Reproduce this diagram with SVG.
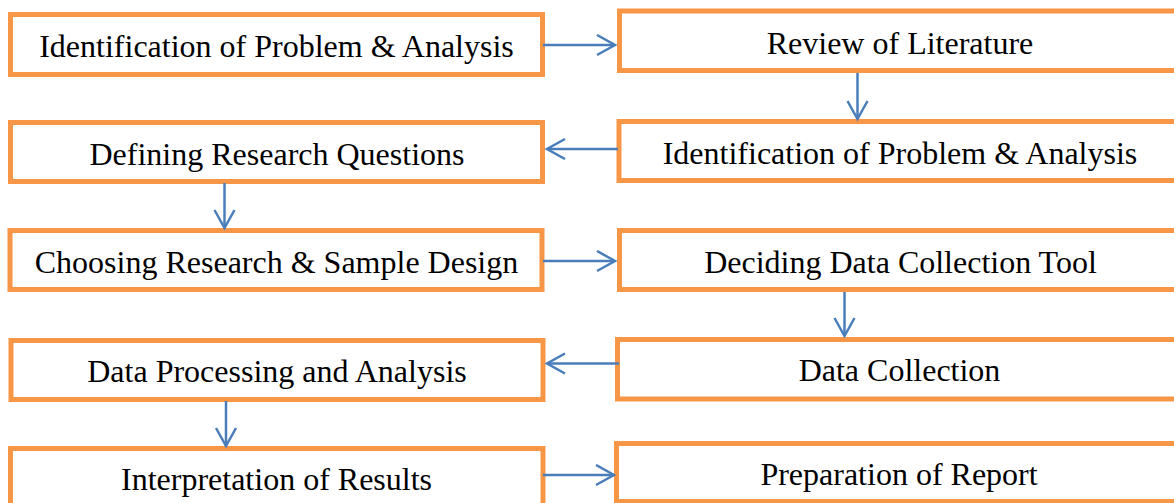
<svg xmlns="http://www.w3.org/2000/svg" width="1174" height="503" viewBox="0 0 1174 503">
  <style>
    .box { fill: #ffffff; stroke: #F79646; stroke-width: 5; }
    .lbl { font-family: "Liberation Serif", "Times New Roman", serif; font-size: 32px; fill: #000000; text-anchor: middle; }
    .link { stroke: #4A7EBB; stroke-width: 2.5; fill: none; }
  </style>
  <defs>
    <marker id="head" markerUnits="userSpaceOnUse" markerWidth="24" markerHeight="24" refX="20" refY="11" orient="auto">
      <path d="M2,1 L20,11 L2,21" fill="none" stroke="#4A7EBB" stroke-width="2.5"/>
    </marker>
  </defs>
  <rect width="1174" height="503" fill="#ffffff"/>

  <g id="n1">
    <rect class="box" x="10.5" y="14.5" width="532" height="60"/>
    <text class="lbl" x="276.5" y="57">Identification of Problem &amp; Analysis</text>
  </g>
  <g id="n2">
    <rect class="box" x="619.5" y="11" width="561" height="59.5"/>
    <text class="lbl" x="900" y="54">Review of Literature</text>
  </g>
  <g id="n3">
    <rect class="box" x="619" y="121.5" width="561" height="59"/>
    <text class="lbl" x="900" y="164">Identification of Problem &amp; Analysis</text>
  </g>
  <g id="n4">
    <rect class="box" x="10.5" y="122.5" width="532" height="59"/>
    <text class="lbl" x="277" y="165">Defining Research Questions</text>
  </g>
  <g id="n5">
    <rect class="box" x="10" y="230.5" width="532" height="59"/>
    <text class="lbl" x="276.5" y="273">Choosing Research &amp; Sample Design</text>
  </g>
  <g id="n6">
    <rect class="box" x="619.5" y="230.5" width="561" height="59"/>
    <text class="lbl" x="900.5" y="273">Deciding Data Collection Tool</text>
  </g>
  <g id="n7">
    <rect class="box" x="617.5" y="339.5" width="563" height="59.5"/>
    <text class="lbl" x="899.5" y="381">Data Collection</text>
  </g>
  <g id="n8">
    <rect class="box" x="11" y="340.5" width="532" height="59"/>
    <text class="lbl" x="277" y="382">Data Processing and Analysis</text>
  </g>
  <g id="n9">
    <rect class="box" x="10.5" y="448.5" width="532.5" height="59"/>
    <text class="lbl" x="276.5" y="490">Interpretation of Results</text>
  </g>
  <g id="n10">
    <rect class="box" x="616.5" y="443.5" width="564" height="58"/>
    <text class="lbl" x="899" y="485">Preparation of Report</text>
  </g>

  <g id="connectors">
    <line class="link" x1="543" y1="45" x2="615" y2="45" marker-end="url(#head)"/>
    <line class="link" x1="857.5" y1="73" x2="857.5" y2="119" marker-end="url(#head)"/>
    <line class="link" x1="618" y1="149" x2="547" y2="149" marker-end="url(#head)"/>
    <line class="link" x1="224.5" y1="183" x2="224.5" y2="228" marker-end="url(#head)"/>
    <line class="link" x1="543" y1="261" x2="615" y2="261" marker-end="url(#head)"/>
    <line class="link" x1="844.5" y1="292" x2="844.5" y2="336" marker-end="url(#head)"/>
    <line class="link" x1="619" y1="363.5" x2="547" y2="363.5" marker-end="url(#head)"/>
    <line class="link" x1="226" y1="401" x2="226" y2="446" marker-end="url(#head)"/>
    <line class="link" x1="543" y1="475" x2="614" y2="475" marker-end="url(#head)"/>
  </g>
</svg>
